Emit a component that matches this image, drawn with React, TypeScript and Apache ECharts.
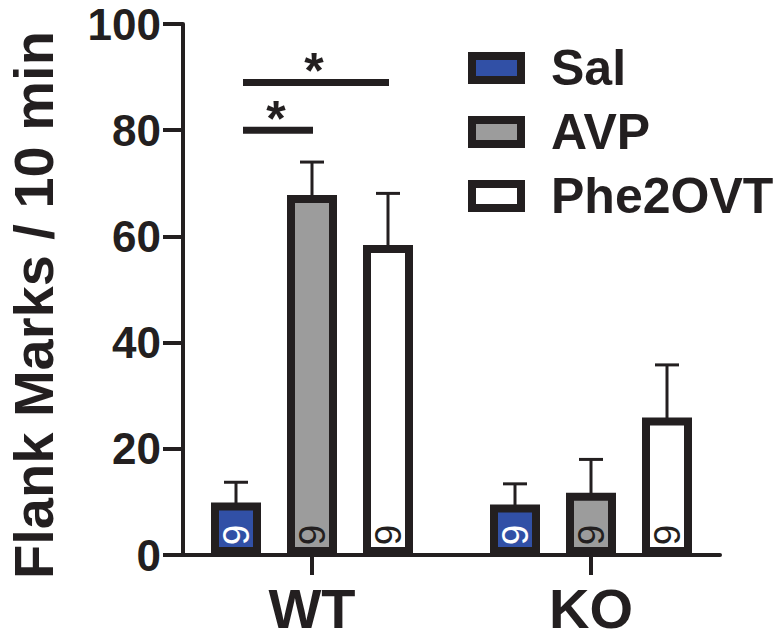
import React, { useEffect, useRef } from "react";
import * as echarts from "echarts";

// ---- data ----
const groups = ["WT", "KO"];
const treatments = ["Sal", "AVP", "Phe2OVT"];
const meanSal = [9.9, 9.5];
const meanAVP = [67.8, 11.7];
const meanPhe = [58.4, 25.9];
const semSal = [3.8, 3.9];
const semAVP = [6.2, 6.3];
const semPhe = [9.7, 9.9];
const nSal = [9, 9];
const nAVP = [9, 9];
const nPhe = [9, 9];
const yTicks = [0, 20, 40, 60, 80, 100];
const yTitle = "Flank Marks / 10 min";
// significance brackets: group index, bar index from/to, height (axis units)
const sigGroup = [0, 0];
const sigFrom = [0, 0];
const sigTo = [2, 1];
const sigY = [89, 80];
const sigLabel = ["*", "*"];

// ---- style ----
const INK = "#231f20";
const FILLS = ["#3150a6", "#9c9c9c", "#ffffff"];
const N_COLORS = ["#ffffff", INK, INK];
const FONT = "'Liberation Sans', Arial, Helvetica, sans-serif";
const BAR_W = 50;
const BAR_GAP = 0.52;
const SPACING = BAR_W * (1 + BAR_GAP);
const BORDER = 8;

const means = [meanSal, meanAVP, meanPhe];
const sems = [semSal, semAVP, semPhe];
const ns = [nSal, nAVP, nPhe];

export default function App() {
  const ref = useRef<HTMLDivElement>(null);
  useEffect(() => {
    document.body.style.margin = "0";
    const chart = echarts.init(ref.current!, null, { renderer: "svg" });

    const barSeries = treatments.map((t, ti) => ({
      type: "bar",
      name: t,
      xAxisIndex: 0,
      yAxisIndex: 0,
      data: means[ti],
      barWidth: BAR_W,
      barGap: `${BAR_GAP * 100}%`,
      itemStyle: { color: FILLS[ti], borderColor: INK, borderWidth: BORDER },
      label: {
        show: true,
        position: "insideBottom",
        distance: 20,
        rotate: 90,
        align: "center",
        verticalAlign: "middle",
        formatter: (p: any) => String(ns[ti][p.dataIndex]),
        fontSize: 37,
        fontFamily: FONT,
        color: N_COLORS[ti],
      },
      z: 2,
    }));

    const errSeries = treatments.map((t, ti) => ({
      type: "custom",
      name: "err-" + t,
      xAxisIndex: 0,
      yAxisIndex: 0,
      data: groups.map((_, gi) => [gi, means[ti][gi], sems[ti][gi]]),
      encode: { x: 0, y: 1 },
      z: 3,
      renderItem: (params: any, api: any) => {
        const x = api.value(0);
        const m = api.value(1);
        const e = api.value(2);
        const p0 = api.coord([x, m]);
        const p1 = api.coord([x, m + e]);
        const cx = p0[0] + (ti - 1) * SPACING;
        const style = { stroke: INK, lineWidth: 3 };
        return {
          type: "group",
          children: [
            { type: "line", shape: { x1: cx, y1: p0[1] + 2, x2: cx, y2: p1[1] }, style },
            { type: "line", shape: { x1: cx - 12, y1: p1[1], x2: cx + 12, y2: p1[1] }, style },
          ],
        };
      },
    }));

    const sigSeries = {
      type: "custom",
      name: "sig",
      xAxisIndex: 0,
      yAxisIndex: 0,
      data: sigGroup.map((g, i) => [g, sigY[i], sigFrom[i], sigTo[i]]),
      encode: { x: 0, y: 1 },
      z: 4,
      renderItem: (params: any, api: any) => {
        const i = params.dataIndex;
        const p = api.coord([api.value(0), api.value(1)]);
        const x1 = p[0] + (api.value(2) - 1) * SPACING + 7;
        const x2 = p[0] + (api.value(3) - 1) * SPACING + 1;
        return {
          type: "group",
          children: [
            { type: "line", shape: { x1, y1: p[1], x2, y2: p[1] }, style: { stroke: INK, lineWidth: 7 } },
            {
              type: "text",
              x: (x1 + x2) / 2 - 2,
              y: p[1] - 11,
              style: {
                text: sigLabel[i],
                fontSize: 50,
                fontWeight: "bold",
                fontFamily: FONT,
                fill: INK,
                align: "center",
                verticalAlign: "middle",
              },
            },
          ],
        };
      },
    };

    const labelFont = { fontWeight: "bold", fontFamily: FONT, color: INK };

    chart.setOption({
      animation: false,
      backgroundColor: "#ffffff",
      grid: [
        // bars (category bands)
        { left: 172.5, right: 49.5, top: 24, bottom: 87, containLabel: false, outerBoundsMode: "none" },
        // visible axis frame
        { left: 183, right: 60, top: 24, bottom: 87, containLabel: false, outerBoundsMode: "none" },
        // y-axis title placement
        { left: 183, right: 60, top: 20, bottom: 52, containLabel: false, outerBoundsMode: "none" },
      ],
      legend: {
        data: treatments,
        orient: "vertical",
        left: 468,
        top: 43,
        padding: 0,
        icon: "rect",
        itemWidth: 49,
        itemHeight: 24,
        itemGap: 14,
        itemStyle: { borderColor: INK, borderWidth: BORDER },
        textStyle: { fontSize: 50, ...labelFont, lineHeight: 50, padding: [0, 0, 0, 25] },
        selectedMode: false,
      },
      xAxis: [
        {
          type: "category",
          gridIndex: 0,
          data: groups,
          axisLine: { show: false },
          axisTick: { show: true, alignWithLabel: true, length: 20, lineStyle: { color: INK, width: 4 } },
          axisLabel: { show: true, fontSize: 56, ...labelFont, margin: 25 },
          splitLine: { show: false },
        },
        {
          type: "value",
          gridIndex: 1,
          min: 0,
          max: 1,
          axisLine: { show: true, onZero: false, lineStyle: { color: INK, width: 4 } },
          axisTick: { show: false },
          axisLabel: { show: false },
          splitLine: { show: false },
        },
        { type: "value", gridIndex: 2, min: 0, max: 1, show: false },
      ],
      yAxis: [
        {
          type: "value",
          gridIndex: 0,
          min: yTicks[0],
          max: yTicks[yTicks.length - 1],
          interval: yTicks[1] - yTicks[0],
          show: false,
        },
        {
          type: "value",
          gridIndex: 1,
          min: yTicks[0],
          max: yTicks[yTicks.length - 1],
          interval: yTicks[1] - yTicks[0],
          axisLine: { show: true, onZero: false, lineStyle: { color: INK, width: 4 } },
          axisTick: { show: true, length: 20, lineStyle: { color: INK, width: 4 } },
          axisLabel: { fontSize: 44, ...labelFont, margin: 22, padding: [4, 0, 0, 0] },
          splitLine: { show: false },
        },
        {
          type: "value",
          gridIndex: 2,
          min: 0,
          max: 1,
          name: yTitle,
          nameLocation: "middle",
          nameRotate: 90,
          nameGap: 125,
          nameTextStyle: { fontSize: 56, lineHeight: 50, ...labelFont },
          axisLine: { show: false, onZero: false },
          axisTick: { show: false },
          axisLabel: { show: false },
          splitLine: { show: false },
        },
      ],
      series: [...barSeries, ...errSeries, sigSeries],
    });
    return () => chart.dispose();
  }, []);
  return <div ref={ref} style={{ width: 780, height: 642 }} />;
}
